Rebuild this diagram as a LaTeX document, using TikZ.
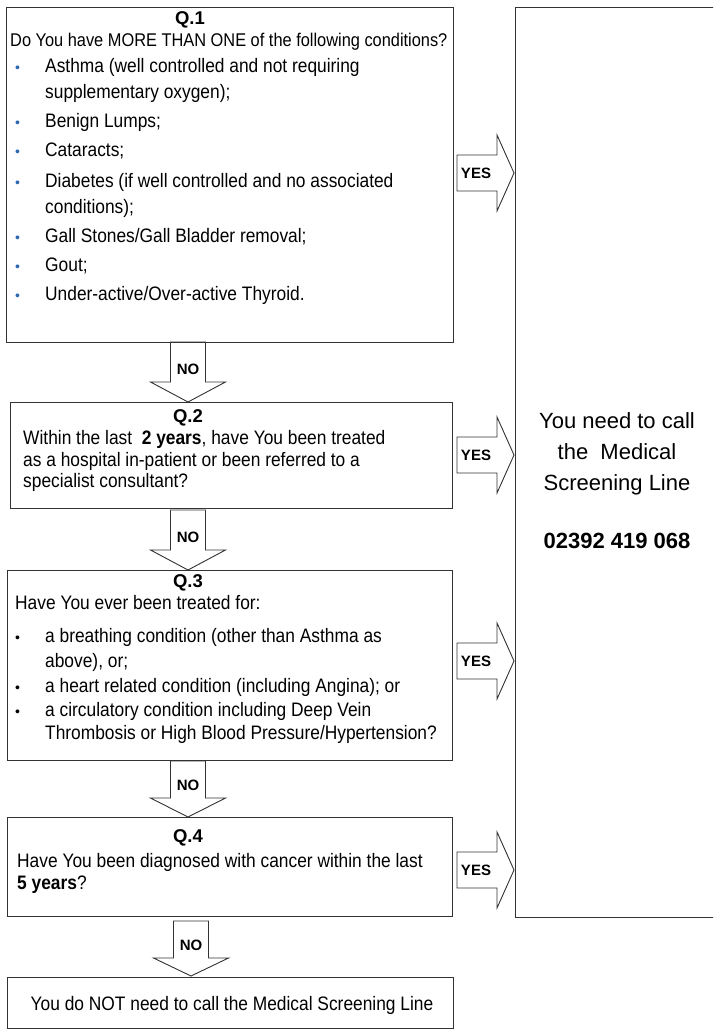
\documentclass[tikz,border=0pt]{standalone}
\usepackage{fontspec}
\setmainfont{Liberation Sans}
\newfontfamily\narrowsans[FakeStretch=0.89]{Liberation Sans}
\definecolor{linegray}{HTML}{333333}
\definecolor{bulletblue}{HTML}{2B68B0}

\newcommand{\bodysize}{\narrowsans\fontsize{19.5}{22}\selectfont}
% block arrow pointing down: centre x, shaft top, wing y, tip y
\newcommand{\downblock}[4]{%
  \draw[blockarrow] (#1-17.5,#2) -- (#1+17.5,#2) -- (#1+17.5,#3) -- (#1+37.5,#3)
    -- (#1,#4) -- (#1-37.5,#3) -- (#1-17.5,#3) -- cycle;}
% block arrow pointing right: centre y
\newcommand{\rightblock}[1]{%
  \draw[blockarrow] (457,#1-18) -- (497,#1-18) -- (497,#1-38) -- (514,#1)
    -- (497,#1+38) -- (497,#1+18) -- (457,#1+18) -- cycle;}

\tikzset{
  box/.style={draw=linegray, line width=1.3pt, anchor=north west, inner sep=0pt},
  blockarrow/.style={draw=linegray, line width=0.9pt, fill=white},
  body/.style={anchor=base west, inner sep=0pt, font=\bodysize},
  qlabel/.style={anchor=base, inner sep=0pt, font=\bfseries\fontsize{18.5}{20}\selectfont},
  dot/.style={anchor=base west, inner sep=0pt, font=\fontsize{14}{14}\selectfont},
  choice/.style={inner sep=0pt, font=\bfseries\fontsize{15}{15}\selectfont},
  callout/.style={anchor=base, inner sep=0pt, font=\fontsize{22}{24}\selectfont},
}

\begin{document}
\begin{tikzpicture}[x=1pt, y=-1pt]
        \useasboundingbox (0,0) rectangle (713,1030);
        \clip (0,0) rectangle (713,1030);

        % NO arrows down the left column
        \downblock{188}{342}{382}{402}
        \downblock{188}{510}{550}{570}
        \downblock{188}{761}{798}{817}
        \downblock{191}{921}{958}{976}
        \node[choice] (no1) at (188,369) {NO};
        \node[choice] (no2) at (188,537) {NO};
        \node[choice] (no3) at (188,785) {NO};
        \node[choice] (no4) at (191,945) {NO};

        % YES arrows into the call box
        \foreach \yy [count=\i] in {173,455,661,870} {
            \rightblock{\yy}
            \node[choice] (yes\i) at (476,\yy) {YES};
        }

        \node[box, minimum width=447pt, minimum height=335pt] (q1) at (6,7) {};
        \node[box, minimum width=442pt, minimum height=106pt] (q2) at (10,402) {};
        \node[box, minimum width=445pt, minimum height=190pt] (q3) at (7,570) {};
        \node[box, minimum width=445pt, minimum height=99pt] (q4) at (7,817) {};
        \node[box, minimum width=446pt, minimum height=51pt] (done) at (7,977) {};
        \node[box, minimum width=240pt, minimum height=910pt] (call) at (515,7) {};

        % Q.1
        \node[qlabel] (q1title) at (190,25) {Q.1};
        \node[body, font=\narrowsans\fontsize{18.4}{22}\selectfont] (q1ask) at (10,47)
            {Do You have MORE THAN ONE of the following conditions?};
        \foreach \yy in {73,128,157,187,242,271,300}
            \node[dot, text=bulletblue] (q1dot\yy) at (15,\yy) {\textbullet};
        \foreach \yy/\txt in {73/{Asthma (well controlled and not requiring},
                99/{supplementary oxygen);}, 128/{Benign Lumps;}, 157/{Cataracts;},
                187/{Diabetes (if well controlled and no associated}, 213/{conditions);},
                242/{Gall Stones/Gall Bladder removal;}, 271/{Gout;},
                300/{Under-active/Over-active Thyroid.}}
            \node[body] (q1line\yy) at (45,\yy) {\txt};

        % Q.2
        \node[qlabel] (q2title) at (188,422) {Q.2};
        \node[body] (q2a) at (23,444) {Within the last \ \textbf{2 years}, have You been treated};
        \node[body] (q2b) at (23,466) {as a hospital in-patient or been referred to a};
        \node[body] (q2c) at (23,487) {specialist consultant?};

        % Q.3
        \node[qlabel] (q3title) at (188,587) {Q.3};
        \node[body] (q3ask) at (15,609) {Have You ever been treated for:};
        \foreach \yy in {642,692,716}
            \node[dot] (q3dot\yy) at (15,\yy) {\textbullet};
        \foreach \yy/\txt in {642/{a breathing condition (other than Asthma as},
                667/{above), or;}, 692/{a heart related condition (including Angina); or},
                716/{a circulatory condition including Deep Vein},
                739/{Thrombosis or High Blood Pressure/Hypertension?}}
            \node[body] (q3line\yy) at (45,\yy) {\txt};

        % Q.4
        \node[qlabel] (q4title) at (188,842) {Q.4};
        \node[body] (q4a) at (17,867) {Have You been diagnosed with cancer within the last};
        \node[body] (q4b) at (17,889) {\textbf{5 years}?};

        \node[body, anchor=base] (donetext) at (232,1010)
            {You do NOT need to call the Medical Screening Line};

        % call box text
        \node[callout] (call1) at (617,428) {You need to call};
        \node[callout] (call2) at (617,459) {the \ Medical};
        \node[callout] (call3) at (617,490) {Screening Line};
        \node[callout, font=\bfseries\fontsize{22}{24}\selectfont] (phone) at (617,548) {02392 419 068};
\end{tikzpicture}
\end{document}
